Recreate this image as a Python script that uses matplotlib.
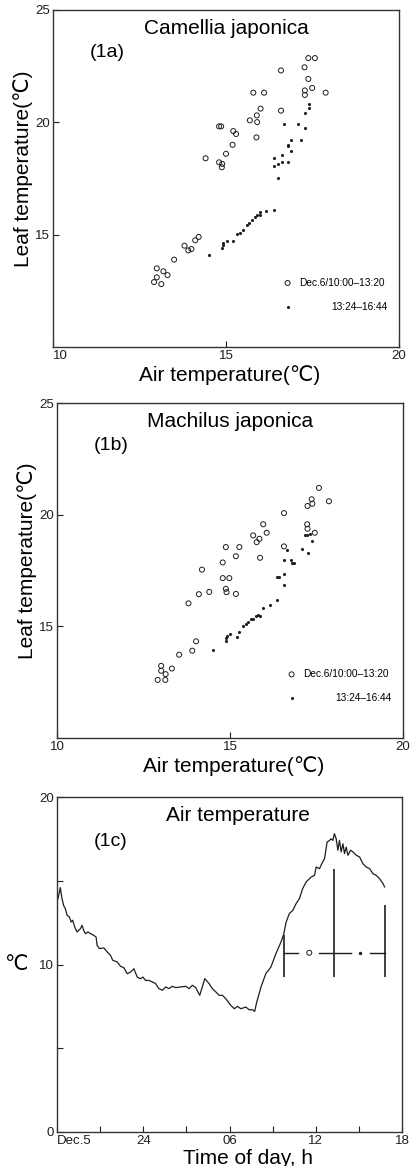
import numpy as np
import matplotlib.pyplot as plt

plt.rcParams['font.family'] = ['Liberation Sans', 'DejaVu Sans']

# (1a) Camellia japonica, leaf vs air temperature
cam_open_x = [12.92, 13.0, 13.13, 13.0, 13.19, 13.31, 13.5, 13.8, 13.91, 14.0, 14.11, 14.21,
              14.41, 14.8, 14.86, 14.8, 14.89, 14.88, 15.0, 15.19, 15.21, 15.29, 15.69, 15.79,
              15.89, 15.9, 15.88, 16.0, 16.1, 16.59, 16.59, 17.27, 17.38, 17.57, 17.38, 17.28,
              17.28, 17.49, 17.88]
cam_open_y = [12.89, 13.1, 12.8, 13.5, 13.37, 13.2, 13.89, 14.51, 14.3, 14.36, 14.75, 14.9,
              18.4, 19.82, 19.82, 18.22, 18.15, 18.0, 18.6, 19.0, 19.61, 19.48, 20.09, 21.32,
              20.31, 20.01, 19.33, 20.61, 21.32, 22.31, 20.52, 22.45, 22.86, 22.86, 21.93, 21.42,
              21.22, 21.53, 21.32]
cam_dot_x = [14.51, 14.89, 14.9, 14.91, 15.02, 15.21, 15.31, 15.4, 15.5, 15.6, 15.67, 15.76,
             15.84, 15.9, 15.98, 15.98, 16.17, 16.38, 16.39, 16.39, 16.49, 16.49, 16.61, 16.61,
             16.68, 16.78, 16.8, 16.8, 16.89, 16.89, 17.09, 17.18, 17.28, 17.28, 17.39, 17.39]
cam_dot_y = [14.08, 14.41, 14.53, 14.63, 14.73, 14.7, 15.03, 15.07, 15.22, 15.42, 15.52, 15.67,
             15.79, 15.89, 16.0, 15.89, 16.07, 16.11, 18.41, 18.04, 17.52, 18.15, 18.22, 18.53,
             19.93, 19.0, 18.93, 18.22, 19.23, 18.74, 19.93, 19.23, 19.75, 20.42, 20.64, 20.83]

# (1b) Machilus japonica
mac_open_x = [12.91, 13.13, 13.01, 13.01, 13.14, 13.32, 13.53, 13.91, 14.02, 13.8, 14.1, 14.19,
              14.4, 14.79, 14.79, 14.88, 14.88, 14.9, 14.98, 15.17, 15.17, 15.27, 15.67, 15.77,
              15.85, 15.87, 15.96, 16.06, 16.56, 16.56, 17.23, 17.24, 17.24, 17.36, 17.38, 17.45,
              17.57, 17.86]
mac_open_y = [12.6, 12.6, 13.23, 13.01, 12.86, 13.11, 13.73, 13.91, 14.33, 16.03, 16.44, 17.54,
              16.54, 17.86, 17.16, 18.55, 16.68, 16.53, 17.16, 18.14, 16.45, 18.55, 19.07, 18.77,
              18.92, 18.07, 19.57, 19.19, 20.07, 18.58, 19.57, 19.37, 20.39, 20.69, 20.49, 19.19,
              21.2, 20.6]
mac_dot_x = [14.5, 14.88, 14.88, 14.9, 15.0, 15.19, 15.27, 15.38, 15.46, 15.53, 15.6, 15.67,
             15.75, 15.82, 15.87, 15.96, 16.15, 16.35, 16.37, 16.42, 16.56, 16.56, 16.56, 16.65,
             16.75, 16.78, 16.85, 17.07, 17.16, 17.23, 17.26, 17.36, 17.31]
mac_dot_y = [13.94, 14.33, 14.46, 14.58, 14.66, 14.54, 14.76, 15.0, 15.1, 15.18, 15.33, 15.33,
             15.45, 15.51, 15.45, 15.82, 15.96, 16.2, 17.23, 17.23, 17.35, 16.87, 17.99, 18.4,
             17.99, 17.83, 17.83, 18.47, 19.07, 19.07, 18.29, 18.82, 19.15]

# (1c) air temperature, hours from Dec.5 00:00
air_hour = [18.07, 18.23, 18.35, 18.46, 18.58, 18.70, 18.86, 18.98, 19.09, 19.23, 19.40, 19.51,
            19.63, 19.74, 19.86, 19.98, 20.16, 20.33, 20.56, 20.72, 20.79, 20.95, 21.26, 21.49,
            21.72, 21.88, 22.19, 22.42, 22.65, 22.88, 23.12, 23.35, 23.58, 23.81, 23.98, 24.16,
            24.40, 24.63, 24.86, 25.09, 25.33, 25.56, 25.79, 26.02, 26.26, 26.60, 26.95, 27.19,
            27.42, 27.65, 27.93, 28.12, 28.28, 28.58, 28.81, 29.05, 29.28, 29.51, 29.74, 30.09,
            30.33, 30.56, 30.79, 31.14, 31.37, 31.60, 31.75, 31.88, 32.19, 32.53, 32.88, 33.23,
            33.58, 33.77, 33.93, 34.16, 34.40, 34.63, 34.86, 35.09, 35.33, 35.68, 35.91, 36.03,
            36.26, 36.42, 36.61, 36.79, 36.96, 37.07, 37.19, 37.30, 37.42, 37.54, 37.65, 37.77,
            37.89, 38.00, 38.12, 38.24, 38.42, 38.59, 38.82, 39.05, 39.28, 39.51, 39.75, 39.98,
            40.21, 40.44, 40.68, 40.79]
air_temp = [13.93, 14.59, 13.93, 13.53, 13.33, 12.94, 12.84, 12.54, 12.64, 12.24, 11.94, 12.04,
            12.14, 12.34, 12.04, 11.84, 11.94, 11.84, 11.74, 11.64, 11.14, 10.95, 10.99, 10.75,
            10.55, 10.25, 10.15, 9.89, 9.81, 9.45, 9.55, 9.75, 9.25, 9.15, 9.25, 9.05,
            9.05, 8.96, 8.86, 8.56, 8.46, 8.66, 8.56, 8.70, 8.62, 8.66, 8.70, 8.56,
            8.76, 8.62, 8.16, 8.70, 9.16, 8.86, 8.56, 8.36, 8.16, 8.16, 7.96, 7.56,
            7.36, 7.50, 7.36, 7.46, 7.30, 7.30, 7.20, 7.70, 8.66, 9.46, 9.85, 10.65,
            11.34, 11.80, 12.50, 13.04, 13.23, 13.63, 13.93, 14.53, 14.93, 15.22, 15.32, 15.82,
            15.72, 16.02, 16.32, 17.31, 17.41, 17.51, 17.41, 17.81, 17.51, 16.82, 17.41, 16.72,
            17.21, 16.62, 17.01, 16.52, 16.82, 16.72, 16.52, 16.42, 16.02, 15.82, 15.72, 15.42,
            15.32, 15.12, 14.83, 14.63]

# measurement periods shown in 1c (10:00-13:20 open, 13:24-16:44 filled)
period_edges = [33.8, 37.3, 40.8]
bar_low = [9.25, 9.25, 9.25]
bar_high = [11.74, 15.72, 13.53]
period_level = 10.7
period_segments = [(33.8, 34.75), (36.2, 38.45), (39.75, 40.8)]

W, H = 412, 1166
ink = '#1e1e1e'


def add_panel(left, top, right, bottom):
    return fig.add_axes([left / W, 1 - bottom / H, (right - left) / W, (bottom - top) / H])


def style_frame(ax):
    for s in ax.spines.values():
        s.set_color('#333333')
        s.set_linewidth(1.0)
    ax.tick_params(which='both', direction='in', length=4, width=0.8, labelsize=9.5, pad=2,
                   colors=ink)


def leaf_panel(ax, ox, oy, dx, dy, title, tag, first_left):
    ax.scatter(ox, oy, s=13, facecolors='none', edgecolors=ink, linewidths=0.7, zorder=3)
    ax.scatter(dx, dy, s=5, color=ink, linewidths=0, zorder=3)
    ax.set_xlim(10, 20)
    ax.set_ylim(10, 25)
    ax.set_xticks([10, 15, 20])
    ax.set_yticks([15, 20, 25])
    style_frame(ax)
    if first_left:
        ax.get_xticklabels()[0].set_ha('left')
    ax.text(0.5, 0.945, title, transform=ax.transAxes, ha='center', va='center', fontsize=15)
    ax.text(0.157, 0.873, tag, transform=ax.transAxes, ha='center', va='center', fontsize=14)
    ax.set_xlabel('Air temperature(℃)', fontsize=15)
    ax.xaxis.set_label_coords(0.51, -0.055)
    ax.set_ylabel('Leaf temperature(℃)', fontsize=15)
    ax.yaxis.set_label_coords(-0.057, 0.53)
    # legend keys
    ax.scatter([0.678], [0.19], s=13, facecolors='none', edgecolors=ink, linewidths=0.7,
               transform=ax.transAxes, clip_on=False)
    ax.scatter([0.678], [0.119], s=5, color=ink, linewidths=0, transform=ax.transAxes)
    ax.text(0.712, 0.19, 'Dec.6/10:00\u201313:20', transform=ax.transAxes, ha='left',
            va='center', fontsize=7.3)
    ax.text(0.968, 0.119, '13:24\u201316:44', transform=ax.transAxes, ha='right',
            va='center', fontsize=7.3)


fig = plt.figure(figsize=(W / 100, H / 100), dpi=100)

ax1 = add_panel(53, 10, 399, 347)
leaf_panel(ax1, cam_open_x, cam_open_y, cam_dot_x, cam_dot_y, 'Camellia japonica', '(1a)', True)

ax2 = add_panel(57, 403, 403, 738)
leaf_panel(ax2, mac_open_x, mac_open_y, mac_dot_x, mac_dot_y, 'Machilus japonica', '(1b)', False)

ax3 = add_panel(57, 797, 402, 1132)
ax3.plot(air_hour, air_temp, color=ink, lw=0.9)
ax3.vlines(period_edges, bar_low, bar_high, color=ink, lw=1.2)
for a, b in period_segments:
    ax3.plot([a, b], [period_level, period_level], color=ink, lw=1.0)
mid_open = (period_edges[0] + period_edges[1]) / 2
mid_dot = (period_edges[1] + period_edges[2]) / 2
ax3.scatter([mid_open], [period_level], s=13, facecolors='none', edgecolors=ink, linewidths=0.7, zorder=3)
ax3.scatter([mid_dot], [period_level], s=6, color=ink, linewidths=0, zorder=3)
ax3.set_xlim(18, 42)
ax3.set_ylim(0, 20)
ax3.set_xticks([18, 24, 30, 36, 42])
ax3.set_xticklabels(['Dec.5', '24', '06', '12', '18'])
ax3.set_xticks([21, 27, 33, 39], minor=True)
ax3.set_yticks([0, 10, 20])
ax3.set_yticks([5, 15], minor=True)
style_frame(ax3)
ax3.get_xticklabels()[0].set_ha('left')
ax3.text(0.525, 0.946, 'Air temperature', transform=ax3.transAxes, ha='center', va='center', fontsize=15)
ax3.text(0.154, 0.866, '(1c)', transform=ax3.transAxes, ha='center', va='center', fontsize=14)
ax3.set_xlabel('Time of day, h', fontsize=15)
ax3.xaxis.set_label_coords(0.553, -0.05)
ax3.set_ylabel('℃', fontsize=15, rotation=0, ha='right', va='center')
ax3.yaxis.set_label_coords(-0.085, 0.5)

fig.savefig('out.png', dpi=100, facecolor='white')
